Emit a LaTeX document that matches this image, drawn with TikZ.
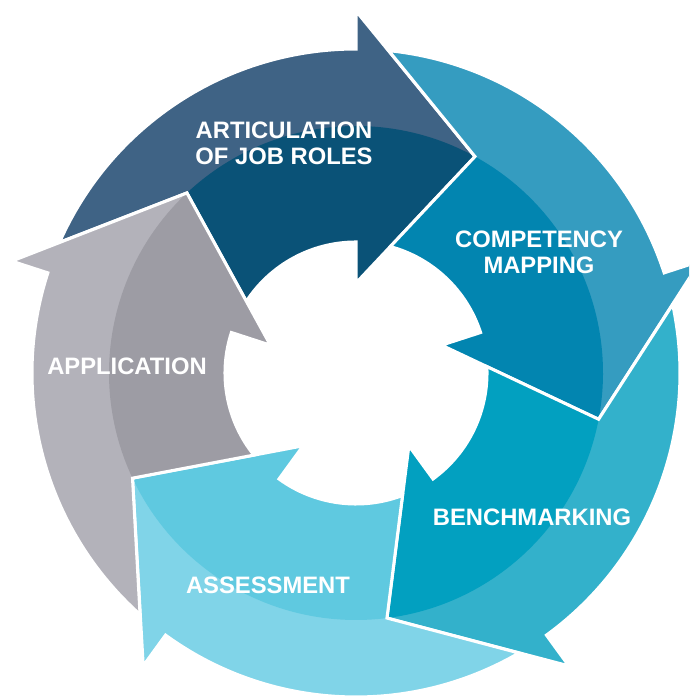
\documentclass[tikz,border=0pt]{standalone}
\usepackage{fontspec}
\setmainfont{Liberation Sans}
\definecolor{artL}{HTML}{3F6385}
\definecolor{artD}{HTML}{0A5277}
\definecolor{comL}{HTML}{359CC0}
\definecolor{comD}{HTML}{0285B0}
\definecolor{benL}{HTML}{33B1CB}
\definecolor{benD}{HTML}{02A0C0}
\definecolor{assL}{HTML}{80D4E8}
\definecolor{assD}{HTML}{5FC9E0}
\definecolor{appL}{HTML}{B3B2BA}
\definecolor{appD}{HTML}{9D9CA4}
\newcommand\cycarrow[3]{%
\pgfmathsetmacro\cyA{#1}%
\pgfmathsetmacro\cyT{#1-28.8}%
\pgfmathsetmacro\cyO{#1+66.2}%
\pgfmathsetmacro\cyI{#1+56.8}%
\pgfmathsetmacro\cyP{#1+43.2}%
\fill[#2] (\cyO:324) arc[start angle=\cyO, end angle=\cyA, radius=324] -- (\cyA:362) -- (\cyT:247) -- (\cyA:90) -- (\cyA:131) arc[start angle=\cyA, end angle=\cyI, radius=131] -- (\cyP:247) -- cycle;
\fill[#3] (\cyP:247) -- (\cyI:131) arc[start angle=\cyI, end angle=\cyA, radius=131] -- (\cyA:90) -- (\cyT:247) arc[start angle=\cyT, end angle=\cyP, radius=247] -- cycle;
\draw[gap] (\cyO:324) arc[start angle=\cyO, end angle=\cyA, radius=324] -- (\cyA:362) -- (\cyT:247) -- (\cyA:90) -- (\cyA:131) arc[start angle=\cyA, end angle=\cyI, radius=131] -- (\cyP:247) -- cycle;
}
\begin{document}
\begin{tikzpicture}[x=0.03cm,y=0.03cm,
  gap/.style={draw=white, line width=2.6pt, line join=miter},
  lbl/.style={text=white, font=\fontsize{20.3}{22.1}\selectfont\bfseries, align=center, inner sep=0pt}]
\useasboundingbox (0,0) rectangle (689,697);
\clip (0,0) rectangle (689,697);
\begin{scope}[shift={(356,324)}]
\cycarrow{90}{artL}{artD}
\cycarrow{18}{comL}{comD}
\cycarrow{-54}{benL}{benD}
\cycarrow{-126}{assL}{assD}
\cycarrow{162}{appL}{appD}
\end{scope}
\node[lbl] (art) at (284,554) {ARTICULATION\\OF JOB ROLES};
\node[lbl] (com) at (539,445) {COMPETENCY\\MAPPING};
\node[lbl] (app) at (127,331) {APPLICATION};
\node[lbl] (ass) at (268,112) {ASSESSMENT};
\node[lbl] (ben) at (532,180) {BENCHMARKING};
\end{tikzpicture}
\end{document}
